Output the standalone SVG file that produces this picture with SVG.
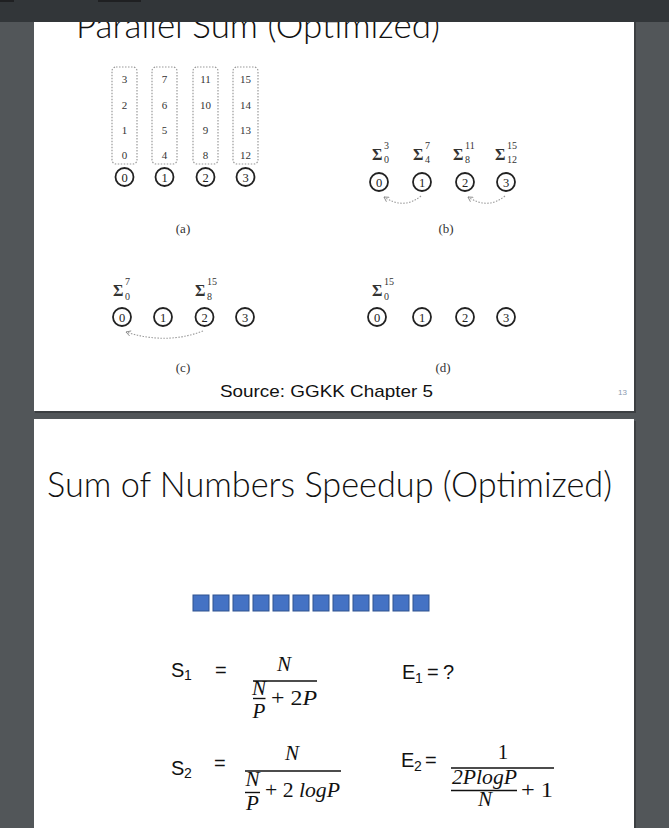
<svg xmlns="http://www.w3.org/2000/svg" width="669" height="828" viewBox="0 0 669 828">
<defs>
<style>
.bg{fill:#525659}
.slide{fill:#ffffff}
.ttl{font-family:Lato,"Liberation Sans",Arial,sans-serif;font-weight:300;fill:#111}
.num{font-family:"Liberation Serif","Times New Roman",serif;font-size:11px;fill:#333;text-anchor:middle}
.cn{font-family:"Liberation Serif","Times New Roman",serif;font-size:12.5px;fill:#222;text-anchor:middle}
.lab{font-family:"Liberation Serif","Times New Roman",serif;font-size:13px;fill:#333;text-anchor:middle}
.sig{font-family:"Liberation Serif","Times New Roman",serif;font-size:16px;font-weight:bold;fill:#333}
.ss{font-family:"Liberation Serif","Times New Roman",serif;font-size:10px;fill:#333}
.col{fill:none;stroke:#999;stroke-width:1.2;stroke-dasharray:1.5 1.5}
.circ{fill:#fff;stroke:#222;stroke-width:1.8}
.arc{fill:none;stroke:#999;stroke-width:1.1;stroke-dasharray:1.5 1.5}
.sq{fill:#4472C4;stroke:#2F528F;stroke-width:1}
.fs{font-family:"Liberation Sans",Arial,sans-serif;font-size:20px;fill:#111}
.fsub{font-family:"Liberation Sans",Arial,sans-serif;font-size:14px;fill:#111}
.m{font-family:"Liberation Serif","Times New Roman",serif;font-style:italic;font-size:21px;fill:#111}
.mu{font-family:"Liberation Serif","Times New Roman",serif;font-size:21px;fill:#111}
.bar{stroke:#111;stroke-width:1.4}
</style>
<marker id="ah" viewBox="0 0 10 10" refX="8" refY="5" markerWidth="6" markerHeight="6" orient="auto">
<path d="M1,1 L8,5 L1,9" fill="none" stroke="#888" stroke-width="1.3"/>
</marker>
</defs>
<rect class="bg" x="0" y="0" width="669" height="828"/>
<!-- slide 1 -->
<rect x="35" y="2" width="601" height="411" fill="#3c3f42"/>
<rect class="slide" x="34" y="0" width="600" height="411"/>
<text class="ttl" x="76" y="38" font-size="36" textLength="364" lengthAdjust="spacingAndGlyphs">Parallel Sum (Optimized)</text>
<!-- top bar -->
<rect x="0" y="0" width="669" height="22" fill="#323639"/>
<rect x="0" y="0" width="14" height="2" fill="#1f2022"/>
<rect x="98" y="0" width="43" height="2" fill="#1f2022"/>

<g id="panel-a">
<rect class="col" x="112" y="67" width="25" height="97" rx="4"/>
<rect class="col" x="152" y="67" width="25" height="97" rx="4"/>
<rect class="col" x="193" y="67" width="25" height="97" rx="4"/>
<rect class="col" x="233" y="67" width="25" height="97" rx="4"/>
<text class="num" x="124.5" y="83">3</text><text class="num" x="124.5" y="109">2</text><text class="num" x="124.5" y="134">1</text><text class="num" x="124.5" y="159">0</text>
<text class="num" x="164.5" y="83">7</text><text class="num" x="164.5" y="109">6</text><text class="num" x="164.5" y="134">5</text><text class="num" x="164.5" y="159">4</text>
<text class="num" x="205.5" y="83">11</text><text class="num" x="205.5" y="109">10</text><text class="num" x="205.5" y="134">9</text><text class="num" x="205.5" y="159">8</text>
<text class="num" x="245.5" y="83">15</text><text class="num" x="245.5" y="109">14</text><text class="num" x="245.5" y="134">13</text><text class="num" x="245.5" y="159">12</text>
<g id="a-p0"><circle class="circ" cx="124.5" cy="177" r="9"/><text class="cn" x="124.5" y="181.5">0</text></g>
<g id="a-p1"><circle class="circ" cx="164.5" cy="177" r="9"/><text class="cn" x="164.5" y="181.5">1</text></g>
<g id="a-p2"><circle class="circ" cx="205.5" cy="177" r="9"/><text class="cn" x="205.5" y="181.5">2</text></g>
<g id="a-p3"><circle class="circ" cx="245.5" cy="177" r="9"/><text class="cn" x="245.5" y="181.5">3</text></g>
<text class="lab" x="183" y="233">(a)</text>
</g>

<g id="panel-b">
<text class="sig" x="372" y="160">Σ</text><text class="ss" x="384" y="149">3</text><text class="ss" x="384" y="163">0</text>
<text class="sig" x="413" y="160">Σ</text><text class="ss" x="425" y="149">7</text><text class="ss" x="425" y="163">4</text>
<text class="sig" x="453" y="160">Σ</text><text class="ss" x="465" y="149">11</text><text class="ss" x="465" y="163">8</text>
<text class="sig" x="495" y="160">Σ</text><text class="ss" x="507" y="149">15</text><text class="ss" x="507" y="163">12</text>
<g id="b-p0"><circle class="circ" cx="379" cy="182" r="9"/><text class="cn" x="379" y="186.5">0</text></g>
<g id="b-p1"><circle class="circ" cx="422" cy="182" r="9"/><text class="cn" x="422" y="186.5">1</text></g>
<g id="b-p2"><circle class="circ" cx="465" cy="182" r="9"/><text class="cn" x="465" y="186.5">2</text></g>
<g id="b-p3"><circle class="circ" cx="506" cy="182" r="9"/><text class="cn" x="506" y="186.5">3</text></g>
<text class="lab" x="446" y="233">(b)</text>
</g>

<g id="panel-c">
<text class="sig" x="113" y="296">Σ</text><text class="ss" x="125" y="285">7</text><text class="ss" x="125" y="300">0</text>
<text class="sig" x="195" y="296">Σ</text><text class="ss" x="207" y="285">15</text><text class="ss" x="207" y="300">8</text>
<g id="c-p0"><circle class="circ" cx="122" cy="317" r="9"/><text class="cn" x="122" y="321.5">0</text></g>
<g id="c-p1"><circle class="circ" cx="163" cy="317" r="9"/><text class="cn" x="163" y="321.5">1</text></g>
<g id="c-p2"><circle class="circ" cx="204.5" cy="317" r="9"/><text class="cn" x="204.5" y="321.5">2</text></g>
<g id="c-p3"><circle class="circ" cx="245" cy="317" r="9"/><text class="cn" x="245" y="321.5">3</text></g>
<text class="lab" x="183" y="372">(c)</text>
</g>

<g id="panel-d">
<text class="sig" x="372" y="296">Σ</text><text class="ss" x="384" y="285">15</text><text class="ss" x="384" y="300">0</text>
<g id="d-p0"><circle class="circ" cx="377" cy="317" r="9"/><text class="cn" x="377" y="321.5">0</text></g>
<g id="d-p1"><circle class="circ" cx="422" cy="317" r="9"/><text class="cn" x="422" y="321.5">1</text></g>
<g id="d-p2"><circle class="circ" cx="465" cy="317" r="9"/><text class="cn" x="465" y="321.5">2</text></g>
<g id="d-p3"><circle class="circ" cx="506" cy="317" r="9"/><text class="cn" x="506" y="321.5">3</text></g>
<text class="lab" x="443" y="372">(d)</text>
</g>

<g id="connectors">
<path class="arc" d="M421,196 Q404,210 384,197" marker-end="url(#ah)"/>
<path class="arc" d="M505,196 Q488,210 468,197" marker-end="url(#ah)"/>
<path class="arc" d="M203,331 Q166,345 126,332" marker-end="url(#ah)"/>
</g>

<text x="220" y="397" font-family="Liberation Sans,Arial,sans-serif" font-size="17" fill="#111" textLength="213" lengthAdjust="spacingAndGlyphs">Source: GGKK Chapter 5</text>
<text x="618" y="395" font-family="Liberation Sans,Arial,sans-serif" font-size="8" fill="#8a9bb0">13</text>

<!-- slide 2 -->
<rect x="35" y="421" width="601" height="410" fill="#3c3f42"/>
<rect class="slide" x="34" y="419" width="600" height="409"/>
<text class="ttl" x="47" y="497" font-size="36" textLength="565" lengthAdjust="spacingAndGlyphs">Sum of Numbers Speedup (Optimized)</text>

<g id="squares">
<rect class="sq" x="193" y="595" width="16" height="16"/>
<rect class="sq" x="213" y="595" width="16" height="16"/>
<rect class="sq" x="233" y="595" width="16" height="16"/>
<rect class="sq" x="253" y="595" width="16" height="16"/>
<rect class="sq" x="273" y="595" width="16" height="16"/>
<rect class="sq" x="293" y="595" width="16" height="16"/>
<rect class="sq" x="313" y="595" width="16" height="16"/>
<rect class="sq" x="333" y="595" width="16" height="16"/>
<rect class="sq" x="353" y="595" width="16" height="16"/>
<rect class="sq" x="373" y="595" width="16" height="16"/>
<rect class="sq" x="393" y="595" width="16" height="16"/>
<rect class="sq" x="413" y="595" width="16" height="16"/>
</g>

<g id="formula-s1">
<text class="fs" x="171" y="677">S</text><text class="fsub" x="184" y="680">1</text>
<text class="fs" x="215" y="677">=</text>
<text class="m" x="284" y="671" text-anchor="middle">N</text>
<line class="bar" x1="253" y1="681" x2="317" y2="681"/>
<text class="m" x="259" y="695" text-anchor="middle">N</text>
<line class="bar" x1="253" y1="698.5" x2="265.5" y2="698.5"/>
<text class="m" x="259" y="718" text-anchor="middle">P</text>
<text class="mu" x="271" y="705" textLength="46" lengthAdjust="spacingAndGlyphs">+ 2<tspan font-style="italic">P</tspan></text>
</g>

<g id="formula-e1">
<text class="fs" x="402" y="679">E</text><text class="fsub" x="415" y="683">1</text>
<text class="fs" x="427" y="679">=</text>
<text class="fs" x="443" y="679">?</text>
</g>

<g id="formula-s2">
<text class="fs" x="171" y="775">S</text><text class="fsub" x="184" y="778">2</text>
<text class="fs" x="214" y="770">=</text>
<text class="m" x="292" y="760" text-anchor="middle">N</text>
<line class="bar" x1="245" y1="771" x2="341" y2="771"/>
<text class="m" x="252.5" y="786" text-anchor="middle">N</text>
<line class="bar" x1="245" y1="792.5" x2="260" y2="792.5"/>
<text class="m" x="252.5" y="810" text-anchor="middle">P</text>
<text class="mu" x="265" y="797" textLength="75" lengthAdjust="spacingAndGlyphs">+ 2 <tspan font-style="italic">logP</tspan></text>
</g>

<g id="formula-e2">
<text class="fs" x="401" y="767">E</text><text class="fsub" x="414" y="771">2</text>
<text class="fs" x="425" y="767">=</text>
<text class="mu" x="503" y="759" text-anchor="middle">1</text>
<line class="bar" x1="451" y1="768" x2="554" y2="768"/>
<text class="m" x="452" y="784" textLength="65" lengthAdjust="spacingAndGlyphs">2PlogP</text>
<line class="bar" x1="451" y1="790.5" x2="517" y2="790.5"/>
<text class="m" x="485" y="806" text-anchor="middle">N</text>
<text class="mu" x="521" y="797" textLength="32" lengthAdjust="spacingAndGlyphs">+ 1</text>
</g>
</svg>
